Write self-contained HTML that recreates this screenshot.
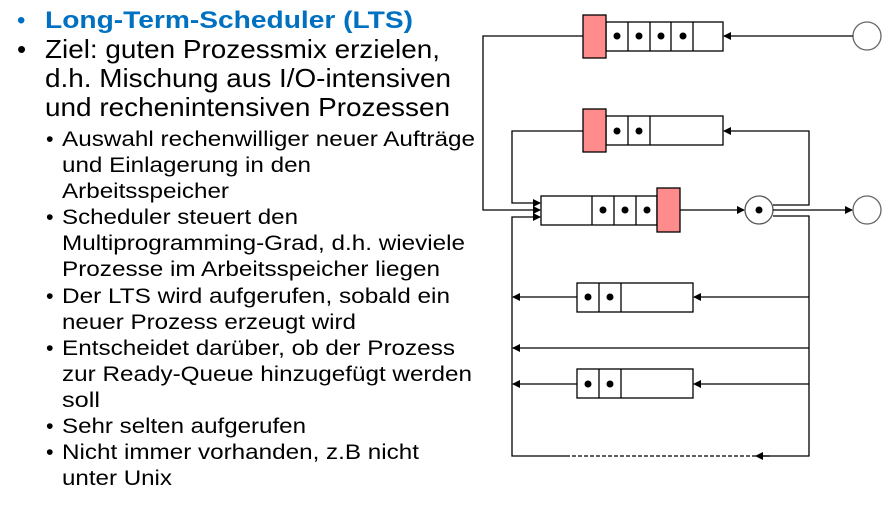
<!DOCTYPE html>
<html><head><meta charset="utf-8"><style>
html,body{margin:0;padding:0;background:#fff;}
svg{display:block}
text{font-family:"Liberation Sans",Arial,sans-serif;}
</style></head><body>
<svg width="889" height="523" viewBox="0 0 889 523" xmlns="http://www.w3.org/2000/svg">
<defs>
<marker id="a" markerWidth="8" markerHeight="8" refX="7" refY="4" orient="auto" markerUnits="userSpaceOnUse">
<path d="M0,0 L8,4 L0,8 z" fill="#000"/></marker>
</defs>
<g font-size="26" lengthAdjust="spacingAndGlyphs">
<text x="17" y="28" fill="#0070C0" font-size="24">•</text>
<text x="45" y="28" fill="#0070C0" font-size="24" font-weight="bold" textLength="368" lengthAdjust="spacingAndGlyphs">Long-Term-Scheduler (LTS)</text>
<text x="17" y="58">•</text>
<text x="45" y="58" textLength="395" lengthAdjust="spacingAndGlyphs">Ziel: guten Prozessmix erzielen,</text>
<text x="45" y="87" textLength="406" lengthAdjust="spacingAndGlyphs">d.h. Mischung aus I/O-intensiven</text>
<text x="45" y="116" textLength="405" lengthAdjust="spacingAndGlyphs">und rechenintensiven Prozessen</text>
</g>
<g font-size="21.5">
<text x="46" y="146">•</text><text x="62" y="146" textLength="413" lengthAdjust="spacingAndGlyphs">Auswahl rechenwilliger neuer Aufträge</text>
<text x="62" y="172" textLength="249" lengthAdjust="spacingAndGlyphs">und Einlagerung in den</text>
<text x="62" y="198" textLength="167" lengthAdjust="spacingAndGlyphs">Arbeitsspeicher</text>
<text x="46" y="224">•</text><text x="62" y="224" textLength="236" lengthAdjust="spacingAndGlyphs">Scheduler steuert den</text>
<text x="62" y="250" textLength="403" lengthAdjust="spacingAndGlyphs">Multiprogramming-Grad, d.h. wieviele</text>
<text x="62" y="276" textLength="378" lengthAdjust="spacingAndGlyphs">Prozesse im Arbeitsspeicher liegen</text>
<text x="46" y="303">•</text><text x="62" y="303" textLength="388" lengthAdjust="spacingAndGlyphs">Der LTS wird aufgerufen, sobald ein</text>
<text x="62" y="329" textLength="294" lengthAdjust="spacingAndGlyphs">neuer Prozess erzeugt wird</text>
<text x="46" y="355">•</text><text x="62" y="355" textLength="393" lengthAdjust="spacingAndGlyphs">Entscheidet darüber, ob der Prozess</text>
<text x="62" y="381" textLength="410" lengthAdjust="spacingAndGlyphs">zur Ready-Queue hinzugefügt werden</text>
<text x="62" y="407" textLength="38" lengthAdjust="spacingAndGlyphs">soll</text>
<text x="46" y="433">•</text><text x="62" y="433" textLength="244" lengthAdjust="spacingAndGlyphs">Sehr selten aufgerufen</text>
<text x="46" y="459">•</text><text x="62" y="459" textLength="357" lengthAdjust="spacingAndGlyphs">Nicht immer vorhanden, z.B nicht</text>
<text x="62" y="485" textLength="110" lengthAdjust="spacingAndGlyphs">unter Unix</text>
</g>
<g stroke="#000" stroke-width="1.3" fill="none">
<rect x="606" y="22" width="117" height="29" fill="#fff"/>
<path d="M628 22V51M650 22V51M671 22V51M693 22V51"/>
<rect x="583" y="15" width="23" height="43" fill="#FF8C8C"/>
<circle cx="867" cy="36" r="14" fill="#fff" stroke="#666"/>
<path d="M853 36H724" marker-end="url(#a)"/>
<path d="M583 36H483V210H540" marker-end="url(#a)"/>
<rect x="606" y="116" width="117" height="29" fill="#fff"/>
<path d="M628 116V145M650 116V145"/>
<rect x="583" y="109" width="23" height="43" fill="#FF8C8C"/>
<path d="M583 131H512V203H540" marker-end="url(#a)"/>
<path d="M773 205H809V131H724" marker-end="url(#a)"/>
<rect x="541" y="196" width="116" height="29" fill="#fff"/>
<path d="M592 196V225M614 196V225M636 196V225"/>
<rect x="657" y="188" width="23" height="44" fill="#FF8C8C"/>
<path d="M680 210H744" marker-end="url(#a)"/>
<circle cx="759" cy="210" r="14" fill="#fff" stroke="#555"/>
<path d="M773 210H852" marker-end="url(#a)"/>
<circle cx="867" cy="210" r="14" fill="#fff" stroke="#666"/>
<path d="M773 216H809V456H760" />
<path d="M770 456H756" marker-end="url(#a)"/>
<path d="M756 456H570" stroke-dasharray="4 2"/>
<path d="M570 456H512V217H540" marker-end="url(#a)"/>
<rect x="577" y="283" width="116" height="29" fill="#fff"/>
<path d="M599 283V312M621 283V312"/>
<path d="M809 297H694" marker-end="url(#a)"/>
<path d="M577 297H513" marker-end="url(#a)"/>
<path d="M809 348H513" marker-end="url(#a)"/>
<rect x="577" y="369" width="116" height="29" fill="#fff"/>
<path d="M599 369V398M621 369V398"/>
<path d="M809 384H694" marker-end="url(#a)"/>
<path d="M577 384H513" marker-end="url(#a)"/>
</g>
<g fill="#000">
<circle cx="617" cy="36" r="3.5"/><circle cx="639" cy="36" r="3.5"/><circle cx="661" cy="36" r="3.5"/><circle cx="683" cy="36" r="3.5"/>
<circle cx="617" cy="131" r="3.5"/><circle cx="639" cy="131" r="3.5"/>
<circle cx="603" cy="210" r="3.5"/><circle cx="625" cy="210" r="3.5"/><circle cx="647" cy="210" r="3.5"/>
<circle cx="759" cy="210" r="3.5"/>
<circle cx="588" cy="297" r="3.5"/><circle cx="610" cy="297" r="3.5"/>
<circle cx="588" cy="384" r="3.5"/><circle cx="610" cy="384" r="3.5"/>
</g>
</svg>
</body></html>
